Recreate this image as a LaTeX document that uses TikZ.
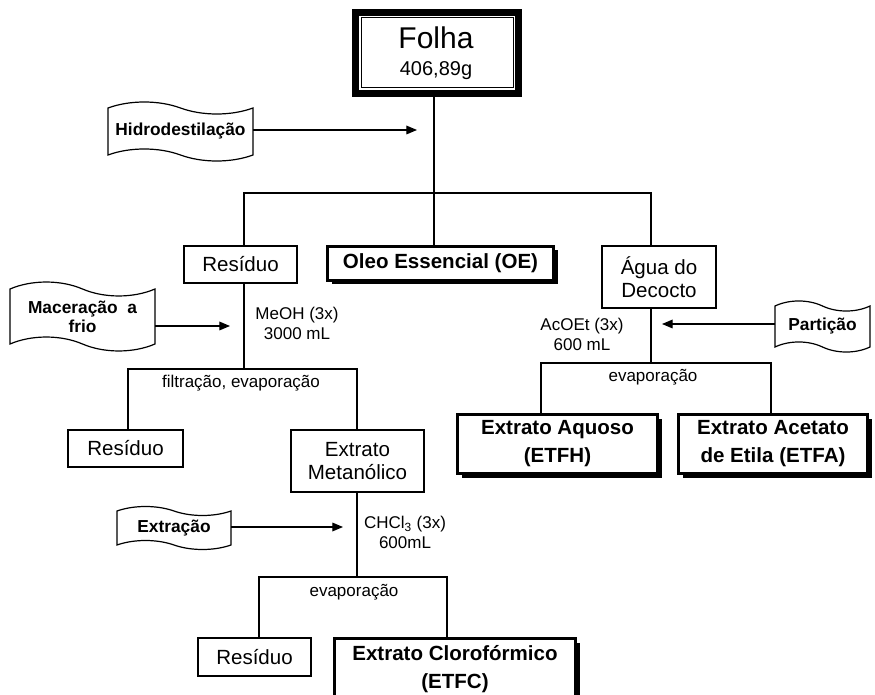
\documentclass[tikz,border=0pt]{standalone}
\usepackage{fontspec}
\setmainfont{Liberation Sans}
\usetikzlibrary{calc,arrows.meta,shadows}

% Wavy "punched tape" outline around a node: #1 node name, #2 control offset
\newcommand{\ribbonframe}[2]{%
  \draw[ribbonline] (#1.north west)
    .. controls ($(#1.north west)!0.15!(#1.north east)+(0,-#2)$)
            and ($(#1.north west)!0.35!(#1.north east)+(0,-#2)$) .. ($(#1.north west)!0.5!(#1.north east)$)
    .. controls ($(#1.north west)!0.65!(#1.north east)+(0,#2)$)
            and ($(#1.north west)!0.85!(#1.north east)+(0,#2)$) .. (#1.north east)
    -- (#1.south east)
    .. controls ($(#1.south west)!0.85!(#1.south east)+(0,#2)$)
            and ($(#1.south west)!0.65!(#1.south east)+(0,#2)$) .. ($(#1.south west)!0.5!(#1.south east)$)
    .. controls ($(#1.south west)!0.35!(#1.south east)+(0,-#2)$)
            and ($(#1.south west)!0.15!(#1.south east)+(0,-#2)$) .. (#1.south west)
    -- cycle;}

\begin{document}
\begin{tikzpicture}[x=0.75pt,y=-0.75pt,
  every node/.style={outer sep=0pt, inner sep=0pt},
  link/.style={line width=0.9pt, black},
  feed/.style={line width=0.9pt, -{Triangle[length=8pt,width=6.5pt]}},
  plainbox/.style={draw, line width=0.9pt, fill=white, align=center,
    font=\fontsize{15.4}{17.5}\selectfont},
  strongbox/.style={draw, line width=2.4pt, fill=white, align=center,
    font=\bfseries\fontsize{15.4}{21}\selectfont,
    drop shadow={shadow xshift=3pt, shadow yshift=-3pt, fill=black, opacity=1}},
  flag/.style={align=center, font=\bfseries\fontsize{13}{14.25}\selectfont},
  ribbonline/.style={line width=0.9pt},
  note/.style={align=center, font=\fontsize{12.75}{15}\selectfont},
]
\useasboundingbox (0,0) rectangle (875,695);
\clip (0,0) rectangle (875,695);

% ---- starting material ----
\node[draw, line width=5.25pt, minimum width=122.25pt, minimum height=60.75pt] (folha) at (437,53) {};
\draw[line width=0.75pt] ([shift={(5.5,5.5)}]folha.north west) rectangle ([shift={(-5.5,-5.5)}]folha.south east);
\node[font=\fontsize{22.5}{22.5}\selectfont, anchor=base] (folhaname) at (436,48.5) {Folha};
\node[font=\fontsize{15}{15}\selectfont, anchor=base] (folhamass) at (436,75.5) {406,89g};

% ---- process banners ----
\node[flag, minimum width=108.75pt, minimum height=35.25pt] (hidro) at (180.5,131.5) {Hidrodestilação};
\node[flag, minimum width=108.75pt, minimum height=41.25pt] (mac) at (82.5,316.5) {Maceração\ \ a\\frio};
\node[flag, minimum width=85.5pt, minimum height=25.5pt] (extr) at (174,528) {Extração};
\node[flag, minimum width=71.25pt, minimum height=30.75pt] (part) at (822.5,326.5) {Partição};
\ribbonframe{hidro}{8}
\ribbonframe{mac}{9.3}
\ribbonframe{extr}{6}
\ribbonframe{part}{6.7}

% ---- fractions ----
\node[plainbox, minimum width=84.75pt, minimum height=27.75pt] (res1) at (240.5,264.5) {Resíduo};
\node[strongbox, minimum width=169.5pt, minimum height=25.5pt] (oleo) at (440.5,263.5) {Oleo Essencial (OE)};
\node[plainbox, minimum width=85.5pt, minimum height=46.5pt] (agua) at (659,277) {Água do\\Decocto};
\node[plainbox, minimum width=86.25pt, minimum height=27.75pt] (res2) at (125.5,448.5) {Resíduo};
\node[plainbox, minimum width=99.75pt, minimum height=46.5pt] (metan) at (357.5,461) {Extrato\\Metanólico};
\node[plainbox, minimum width=84.75pt, minimum height=28.5pt] (res3) at (254.5,657) {Resíduo};
\node[strongbox, minimum width=180.75pt, minimum height=46.5pt] (cloro) at (455,669.5) {Extrato Clorofórmico\\(ETFC)};
\node[strongbox, minimum width=150pt, minimum height=44.25pt] (aquoso) at (557.5,444) {Extrato Aquoso\\(ETFH)};
\node[strongbox, minimum width=141.75pt, minimum height=44.25pt] (acetato) at (773,444) {Extrato Acetato\\de Etila (ETFA)};

% ---- conditions ----
\node[note] (meoh) at (297,323) {MeOH (3x)\\3000 mL};
\node[note] (acoet) at (582,334.5) {AcOEt (3x)\\600 mL};
\node[note] (chcl) at (405,532.5) {CHCl\textsubscript{3} (3x)\\600mL};
\node[note] (filt) at (241,383) {filtração, evaporação};
\node[note] (evapA) at (354,592) {evaporação};
\node[note] (evapB) at (653,377) {evaporação};

% ---- first split ----
\coordinate (a0) at (434,193);
\coordinate (a1) at (244,193);
\coordinate (a2) at (651,193);
\draw[link] (a0 |- folha.south) -- (a0 |- oleo.north);
\draw[link] (a1 |- res1.north) -- (a1) -- (a2) -- (a2 |- agua.north);

% ---- methanol branch ----
\coordinate (b0) at (244,369);
\coordinate (b1) at (128,369);
\coordinate (b2) at (357,369);
\draw[link] (b0 |- res1.south) -- (b0);
\draw[link] (b1 |- res2.north) -- (b1) -- (b2) -- (b2 |- metan.north);

% ---- chloroform branch ----
\coordinate (c0) at (357,577);
\coordinate (c1) at (259,577);
\coordinate (c2) at (447,577);
\draw[link] (c0 |- metan.south) -- (c0);
\draw[link] (c1 |- res3.north) -- (c1) -- (c2) -- (c2 |- cloro.north);

% ---- decoction branch ----
\coordinate (d0) at (651,363);
\coordinate (d1) at (541,363);
\coordinate (d2) at (771,363);
\draw[link] (d0 |- agua.south) -- (d0);
\draw[link] (d1 |- aquoso.north) -- (d1) -- (d2) -- (d2 |- acetato.north);

% ---- process arrows ----
\coordinate (hidrotip) at (417,130);
\coordinate (mactip) at (230,326);
\coordinate (extrtip) at (343,527);
\coordinate (parttip) at (662,324);
\draw[feed] (hidro.east |- hidrotip) -- (hidrotip);
\draw[feed] (mac.east |- mactip) -- (mactip);
\draw[feed] (extr.east |- extrtip) -- (extrtip);
\draw[feed] (part.west |- parttip) -- (parttip);
\end{tikzpicture}
\end{document}
